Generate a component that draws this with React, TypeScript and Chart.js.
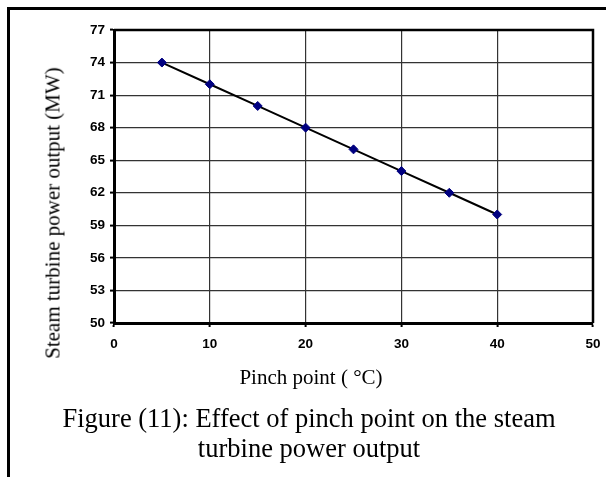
import React, { useEffect, useRef } from "react";
import { Chart, registerables } from "chart.js";

Chart.register(...registerables);

const pinchPoints = [5, 10, 15, 20, 25, 30, 35, 40];
const powerOutput = [74, 72, 70, 68, 66, 64, 62, 60];
const yTitle = "Steam turbine power output (MW)";
const xTitle = "Pinch point ( \u00B0C)";
const captionLines = ["Figure (11): Effect of pinch point on the steam", "turbine power output"];

const plotFrame = {
  id: "plotFrame",
  afterDraw(chart: any) {
    const { ctx, chartArea } = chart;
    ctx.save();
    ctx.strokeStyle = "#000";
    ctx.lineWidth = 2.5;
    ctx.beginPath();
    ctx.moveTo(chartArea.left, chartArea.top);
    ctx.lineTo(chartArea.right, chartArea.top);
    ctx.lineTo(chartArea.right, chartArea.bottom);
    ctx.stroke();
    ctx.restore();
  },
};

export default function App() {
  const ref = useRef<HTMLCanvasElement | null>(null);

  useEffect(() => {
    if (!ref.current) return;
    const tickFont = { family: "'Liberation Sans', Arial, sans-serif", size: 13.5, weight: "bold" as const };
    const chart = new Chart(ref.current, {
      type: "line",
      data: {
        datasets: [
          {
            data: pinchPoints.map((x, i) => ({ x, y: powerOutput[i] })),
            borderColor: "#000",
            borderWidth: 2,
            pointStyle: "rectRot",
            pointRadius: 4.5,
            pointBackgroundColor: "#000080",
            pointBorderColor: "#000080",
            pointBorderWidth: 1,
            tension: 0,
          },
        ],
      },
      options: {
        animation: false,
        responsive: false,
        maintainAspectRatio: false,
        layout: { padding: { left: 0, top: 30, right: 13, bottom: 0 } },
        plugins: { legend: { display: false }, tooltip: { enabled: false }, title: { display: false } },
        scales: {
          x: {
            type: "linear",
            min: 0,
            max: 50,
            ticks: { stepSize: 10, color: "#000", padding: 9, font: tickFont },
            grid: { color: "#333", lineWidth: 1.2, tickLength: 4, tickColor: "#000", tickWidth: 2 },
            border: { color: "#000", width: 3 },
            afterFit: (scale: any) => {
              scale.height = 154;
              scale.paddingRight = 0;
              scale.paddingLeft = 0;
            },
          },
          y: {
            min: 50,
            max: 77,
            ticks: { stepSize: 3, color: "#000", padding: 5, font: tickFont },
            grid: { color: "#333", lineWidth: 1.2, tickLength: 4, tickColor: "#000", tickWidth: 2 },
            border: { color: "#000", width: 3 },
            afterFit: (scale: any) => {
              scale.width = 114;
              scale.paddingTop = 0;
              scale.paddingBottom = 0;
            },
          },
        },
      },
      plugins: [plotFrame],
    });
    return () => chart.destroy();
  }, []);

  const serif = "'Liberation Serif', 'Times New Roman', serif";

  return (
    <div
      style={{
        position: "absolute",
        left: 0,
        top: 0,
        width: 606,
        height: 477,
        overflow: "hidden",
        background: "#fff",
      }}
    >
      <div
        style={{
          position: "absolute",
          left: 7,
          top: 7,
          width: 800,
          height: 800,
          borderTop: "3px solid #000",
          borderLeft: "3px solid #000",
        }}
      />
      <canvas ref={ref} width={606} height={477} style={{ position: "absolute", left: 0, top: 0 }} />
      <div
        style={{
          position: "absolute",
          left: 53,
          top: 213,
          transform: "translate(-50%, -50%) rotate(-90deg)",
          whiteSpace: "nowrap",
          fontFamily: serif,
          fontSize: 21,
          lineHeight: "21px",
          color: "#000",
        }}
      >
        {yTitle}
      </div>
      <div
        style={{
          position: "absolute",
          left: 311,
          top: 367,
          transform: "translateX(-50%)",
          whiteSpace: "nowrap",
          fontFamily: serif,
          fontSize: 21,
          lineHeight: "21px",
          color: "#000",
        }}
      >
        {xTitle}
      </div>
      <div
        style={{
          position: "absolute",
          left: 309,
          top: 403,
          transform: "translateX(-50%)",
          whiteSpace: "nowrap",
          textAlign: "center",
          fontFamily: serif,
          fontSize: 26.5,
          lineHeight: "30px",
          color: "#000",
        }}
      >
        {captionLines.map((l, i) => (
          <div key={i}>{l}</div>
        ))}
      </div>
    </div>
  );
}
